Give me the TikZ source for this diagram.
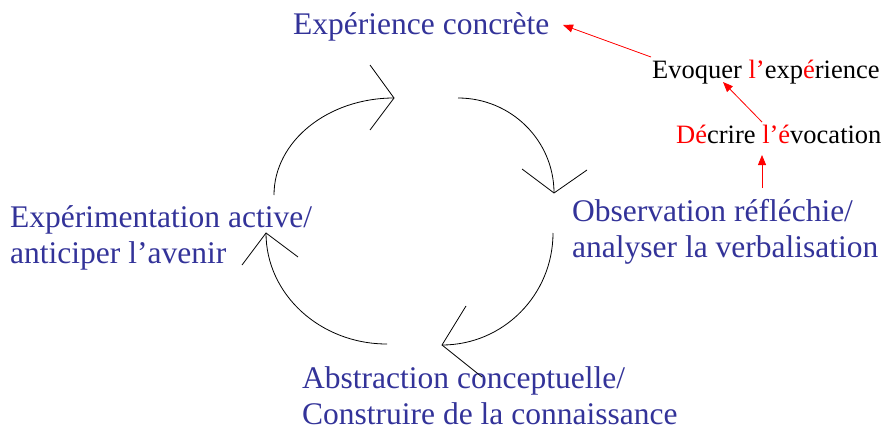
\documentclass[tikz,border=0pt]{standalone}
\usepackage{fontspec}
\setmainfont{Liberation Serif}
\usetikzlibrary{arrows.meta}
\definecolor{cblue}{RGB}{51,51,153}
\begin{document}
\begin{tikzpicture}[x=1pt,y=-1pt,
  lbl/.style={font=\fontsize{31.5}{36}\selectfont, text=cblue, anchor=base west, inner sep=0pt, align=left},
  sml/.style={font=\fontsize{26.5}{30}\selectfont, text=black, anchor=base west, inner sep=0pt},
  cyc/.style={draw=black, line width=0.8pt},
  redarr/.style={draw=red, line width=0.8pt, -{Triangle[length=10pt,width=8pt]}}
]
\useasboundingbox (0,0) rectangle (885,428);

% labels (for two-line labels the base anchor is the last line's baseline)
\node[lbl] (exp) at (293,35) {Expérience concrète};
\node[lbl] (obs) at (572,257) {Observation réfléchie/\\analyser la verbalisation};
\node[lbl] (abs) at (302,424) {Abstraction conceptuelle/\\Construire de la connaissance};
\node[lbl] (act) at (10,263) {Expérimentation active/\\anticiper l’avenir};
\node[sml] (evoq) at (652,78) {Evoquer \textcolor{red}{l’}exp\textcolor{red}{é}rience};
\node[sml] (decr) at (676,143) {\textcolor{red}{Dé}crire \textcolor{red}{l’é}vocation};

% cycle arcs
\coordinate (a1s) at (274,195); \coordinate (a1e) at (394,98);
\coordinate (a1u) at (370,65);  \coordinate (a1d) at (370,130);
\draw[cyc] (a1s) arc[start angle=180,end angle=270,x radius=120,y radius=97];
\draw[cyc] (a1u) -- (a1e) -- (a1d);

\coordinate (a2s) at (458,98); \coordinate (a2e) at (554,193);
\coordinate (a2u) at (522,169); \coordinate (a2d) at (587,170);
\draw[cyc] (a2s) arc[start angle=270,end angle=360,x radius=96,y radius=95];
\draw[cyc] (a2u) -- (a2e) -- (a2d);

\coordinate (a3s) at (553,233); \coordinate (a3e) at (442,345);
\coordinate (a3u) at (466,306); \coordinate (a3d) at (482,377);
\draw[cyc] (a3s) arc[start angle=0,end angle=90,x radius=111,y radius=112];
\draw[cyc] (a3u) -- (a3e) -- (a3d);

\coordinate (a4s) at (387,344); \coordinate (a4e) at (266,233);
\coordinate (a4u) at (242,265); \coordinate (a4d) at (298,257);
\draw[cyc] (a4s) arc[start angle=90,end angle=180,x radius=121,y radius=111];
\draw[cyc] (a4u) -- (a4e) -- (a4d);

% red arrows
\coordinate (r1s) at (651,57);  \coordinate (r1e) at (563,25);
\coordinate (r2s) at (762,122); \coordinate (r2e) at (723,82);
\coordinate (r3s) at (762,188); \coordinate (r3e) at (762,155);
\draw[redarr] (r1s) -- (r1e);
\draw[redarr] (r2s) -- (r2e);
\draw[redarr] (r3s) -- (r3e);
\end{tikzpicture}
\end{document}
